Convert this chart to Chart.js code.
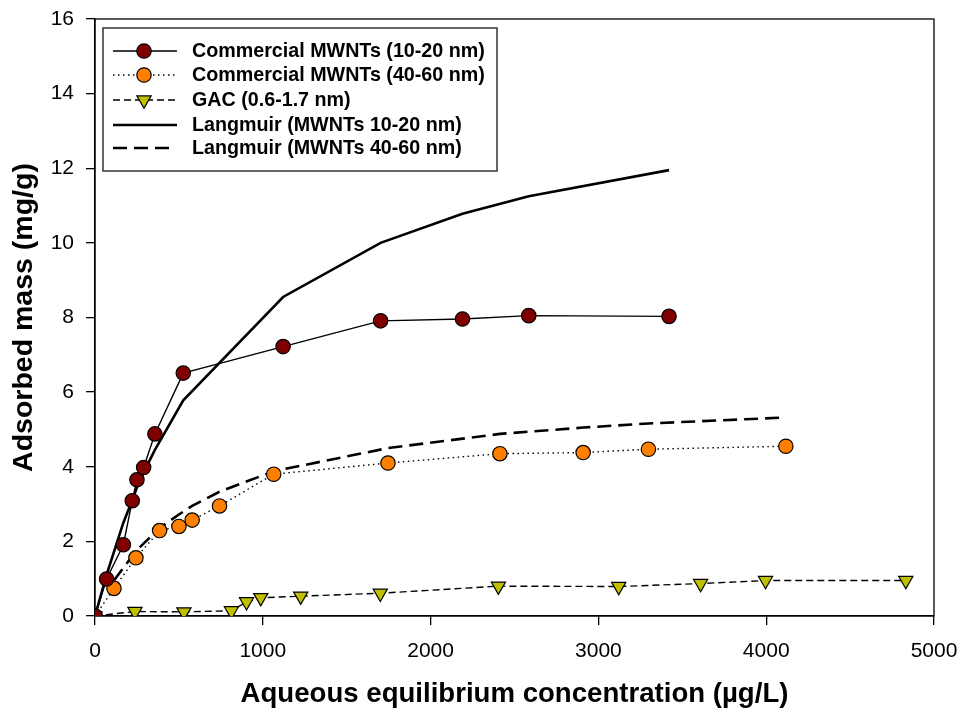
<!DOCTYPE html>
<html>
<head>
<meta charset="utf-8">
<script src="https://cdn.jsdelivr.net/npm/chart.js@4/dist/chart.umd.min.js"></script>
<style>
  html, body { margin: 0; padding: 0; background: #fff; }
  #wrap { width: 962px; height: 713px; }
</style>
</head>
<body>
<div id="wrap"><canvas id="isotherm" width="962" height="713"></canvas></div>
<script>
// adsorption isotherms: measured points + Langmuir fits
const xTicks = [0, 1000, 2000, 3000, 4000, 5000];
const yTicks = [0, 2, 4, 6, 8, 10, 12, 14, 16];

const mwnt1020X = [0, 69, 169, 222, 250, 290, 357, 526, 1121, 1702, 2190, 2585, 3421];
const mwnt1020Y = [0, 0.99, 1.91, 3.09, 3.65, 3.98, 4.88, 6.51, 7.22, 7.91, 7.96, 8.05, 8.03];

const mwnt4060X = [0, 113, 244, 385, 500, 579, 742, 1065, 1746, 2413, 2909, 3298, 4117];
const mwnt4060Y = [0, 0.74, 1.56, 2.29, 2.40, 2.57, 2.95, 3.80, 4.10, 4.35, 4.38, 4.47, 4.55];

const gacX = [0, 238, 530, 813, 903, 988, 1226, 1700, 2404, 3121, 3609, 3996, 4832];
const gacY = [0, 0.12, 0.11, 0.14, 0.38, 0.49, 0.53, 0.61, 0.80, 0.79, 0.87, 0.95, 0.95];

const lang1020X = [0, 69, 169, 222, 250, 290, 357, 526, 1121, 1702, 2190, 2585, 3421];
const lang1020Y = [0, 1.1, 2.5, 3.1, 3.45, 3.85, 4.45, 5.78, 8.55, 10.0, 10.78, 11.25, 11.95];

const lang4060X = [113, 244, 385, 500, 579, 742, 1065, 1746, 2413, 2909, 3298, 4117];
const lang4060Y = [0.95, 1.74, 2.36, 2.72, 2.95, 3.33, 3.88, 4.50, 4.88, 5.05, 5.16, 5.32];

const seriesLabels = [
  'Commercial MWNTs (10-20 nm)',
  'Commercial MWNTs (40-60 nm)',
  'GAC (0.6-1.7 nm)',
  'Langmuir (MWNTs 10-20 nm)',
  'Langmuir (MWNTs 40-60 nm)'
];

const FONT = "'Liberation Sans', Arial, sans-serif";

function pts(xs, ys) {
  return xs.map((x, i) => ({ x: x, y: ys[i] }));
}

// boxed legend in the upper left, line sample + marker like the plot
const boxLegend = {
  id: 'boxLegend',
  afterDatasetsDraw(chart) {
    const ctx = chart.ctx;
    const left = 103, top = 28, w = 394, h = 143;
    const rowY = [51, 75, 100, 125, 148];
    ctx.save();
    ctx.fillStyle = '#fff';
    ctx.fillRect(left, top, w, h);
    ctx.strokeStyle = '#333';
    ctx.lineWidth = 1.5;
    ctx.strokeRect(left, top, w, h);

    chart.data.datasets.forEach((ds, i) => {
      const y = rowY[i];
      ctx.save();
      ctx.strokeStyle = ds.borderColor;
      ctx.lineWidth = ds.borderWidth;
      ctx.setLineDash(ds.borderDash || []);
      ctx.beginPath();
      ctx.moveTo(113, y);
      ctx.lineTo(i === 4 ? 171 : 177, y);
      ctx.stroke();
      ctx.restore();
      if (ds.pointRadius > 0) {
        ctx.save();
        ctx.fillStyle = ds.pointBackgroundColor;
        ctx.strokeStyle = ds.pointBorderColor;
        ctx.lineWidth = ds.pointBorderWidth;
        Chart.helpers.drawPoint(ctx, {
          pointStyle: ds.pointStyle,
          radius: ds.pointRadius,
          rotation: ds.pointRotation || 0,
          borderWidth: ds.pointBorderWidth
        }, 144, y);
        ctx.restore();
      }
      ctx.fillStyle = '#000';
      ctx.font = 'bold 19.7px ' + FONT;
      ctx.textBaseline = 'middle';
      ctx.textAlign = 'left';
      ctx.fillText(ds.label, 192, y + 1);
    });
    ctx.restore();
  }
};

// closed frame around the plotting area
const plotFrame = {
  id: 'plotFrame',
  beforeDatasetsDraw(chart) {
    const a = chart.chartArea;
    const ctx = chart.ctx;
    ctx.save();
    ctx.strokeStyle = '#000';
    ctx.lineWidth = 1.3;
    ctx.strokeRect(a.left, a.top, a.right - a.left, a.bottom - a.top);
    ctx.restore();
  }
};

const ctx = document.getElementById('isotherm').getContext('2d');

new Chart(ctx, {
  type: 'line',
  data: {
    datasets: [
      {
        label: seriesLabels[0],
        data: pts(mwnt1020X, mwnt1020Y),
        borderColor: '#000',
        borderWidth: 1.4,
        pointStyle: 'circle',
        pointRadius: 7.2,
        pointBackgroundColor: '#800000',
        pointBorderColor: '#000',
        pointBorderWidth: 1.2,
        order: 1
      },
      {
        label: seriesLabels[1],
        data: pts(mwnt4060X, mwnt4060Y),
        borderColor: '#000',
        borderWidth: 1.4,
        borderDash: [1.5, 3.5],
        pointStyle: 'circle',
        pointRadius: 7.2,
        pointBackgroundColor: '#ff8000',
        pointBorderColor: '#000',
        pointBorderWidth: 1.2,
        order: 2
      },
      {
        label: seriesLabels[2],
        data: pts(gacX, gacY),
        borderColor: '#000',
        borderWidth: 1.4,
        borderDash: [7, 4],
        pointStyle: 'triangle',
        pointRotation: 180,
        pointRadius: 8.2,
        pointBackgroundColor: '#c0c000',
        pointBorderColor: '#000',
        pointBorderWidth: 1.2,
        order: 3
      },
      {
        label: seriesLabels[3],
        data: pts(lang1020X, lang1020Y),
        borderColor: '#000',
        borderWidth: 2.6,
        pointRadius: 0,
        order: 4
      },
      {
        label: seriesLabels[4],
        data: pts(lang4060X, lang4060Y),
        borderColor: '#000',
        borderWidth: 2.6,
        borderDash: [14, 7],
        pointRadius: 0,
        order: 5
      }
    ]
  },
  options: {
    responsive: false,
    devicePixelRatio: 1,
    animation: false,
    layout: { padding: { left: 0, right: 28, top: 19, bottom: 0 } },
    plugins: {
      legend: { display: false },
      tooltip: { enabled: false }
    },
    elements: { line: { tension: 0, fill: false } },
    scales: {
      x: {
        type: 'linear',
        min: 0,
        max: 5000,
        afterFit(scale) {
          scale.height = 97;
          scale.paddingLeft = 0;
          scale.paddingRight = 0;
        },
        afterBuildTicks(scale) { scale.ticks = xTicks.map(v => ({ value: v })); },
        border: { display: true, color: '#000', width: 1.3 },
        grid: { drawOnChartArea: false, drawTicks: true, tickLength: 9, color: '#000', lineWidth: 1.3 },
        ticks: {
          color: '#000',
          padding: 14,
          maxRotation: 0,
          font: { family: FONT, size: 21 },
          callback: v => String(v)
        },
        title: {
          display: true,
          text: 'Aqueous equilibrium concentration (\u00b5g/L)',
          color: '#000',
          font: { family: FONT, size: 27.6, weight: 'bold' },
          padding: { top: 0, bottom: 2 }
        }
      },
      y: {
        type: 'linear',
        min: 0,
        max: 16,
        afterFit(scale) {
          scale.width = 95;
          scale.paddingTop = 0;
          scale.paddingBottom = 0;
        },
        afterBuildTicks(scale) { scale.ticks = yTicks.map(v => ({ value: v })); },
        border: { display: true, color: '#000', width: 1.3 },
        grid: { drawOnChartArea: false, drawTicks: true, tickLength: 9, color: '#000', lineWidth: 1.3 },
        ticks: { color: '#000', padding: 12, font: { family: FONT, size: 21 }, callback: v => String(v) },
        title: {
          display: true,
          text: 'Adsorbed mass (mg/g)',
          color: '#000',
          font: { family: FONT, size: 28.5, weight: 'bold' },
          padding: { top: 7, bottom: 0 }
        }
      }
    }
  },
  plugins: [plotFrame, boxLegend]
});
</script>
</body>
</html>
